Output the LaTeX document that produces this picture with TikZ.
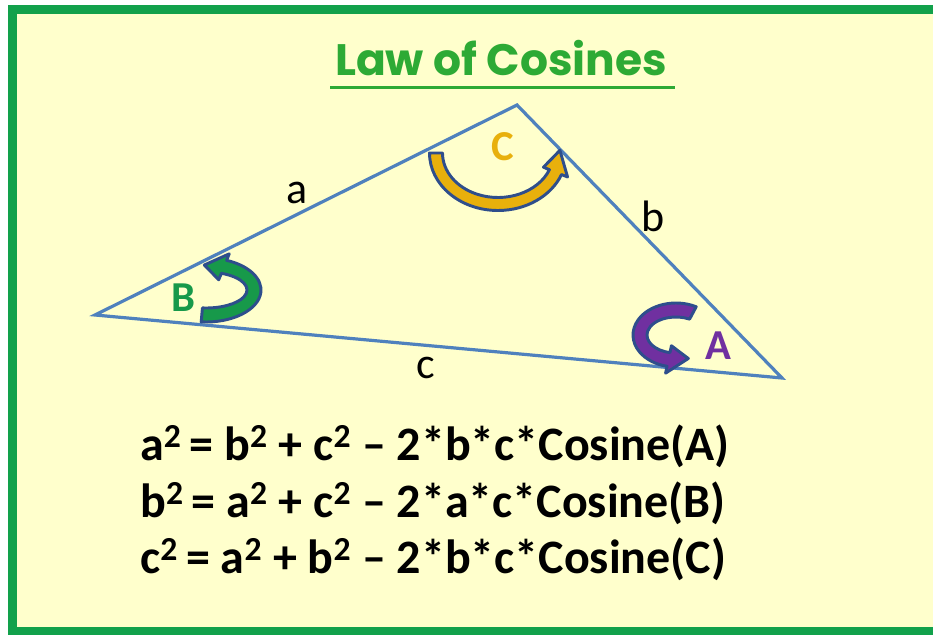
\documentclass[tikz,border=0pt]{standalone}
\usepackage{fontspec}
\setmainfont{Carlito}
\newfontfamily\titlefont{Poppins}
\usepackage{tikz}
\usetikzlibrary{arrows.meta,calc}

\definecolor{paper}{HTML}{FFFFCC}
\definecolor{framegreen}{HTML}{12A14B}
\definecolor{titlegreen}{HTML}{2DAA35}
\definecolor{sideblue}{HTML}{4F81BD}
\definecolor{arrowblue}{HTML}{2E4E8C}
\definecolor{angleC}{HTML}{E8B00C}
\definecolor{angleB}{HTML}{17994A}
\definecolor{angleA}{HTML}{7030A0}

\tikzset{
  side/.style={draw=sideblue, line width=2.4pt, line join=miter},
  sidelabel/.style={font=\fontsize{33}{33}\selectfont, inner sep=0pt},
  anglelabel/.style={font=\fontsize{32}{32}\selectfont\bfseries, inner sep=0pt},
  turn/.style={draw=arrowblue, line width=2.2pt, line join=round},
  formula/.style={font=\fontsize{36}{36}\selectfont\bfseries, anchor=base west, inner sep=0pt},
}

% centre, x radius, y radius, from, to, tip angle, half width, fill
\newcommand{\turnarrow}[8]{%
  \pgfmathsetmacro{\rxo}{#2+#7}\pgfmathsetmacro{\ryo}{#3+#7}%
  \pgfmathsetmacro{\rxi}{#2-#7}\pgfmathsetmacro{\ryi}{#3-#7}%
  \pgfmathsetmacro{\rxw}{#2+2*#7}\pgfmathsetmacro{\ryw}{#3+2*#7}%
  \pgfmathsetmacro{\rxv}{#2-2*#7}\pgfmathsetmacro{\ryv}{#3-2*#7}%
  \filldraw[turn, fill=#8, shift={#1}]
    ({\rxo*cos(#4)},{\ryo*sin(#4)}) arc[start angle=#4, end angle=#5, x radius=\rxo, y radius=\ryo]
    -- ({\rxw*cos(#5)},{\ryw*sin(#5)}) -- ({#2*cos(#6)},{#3*sin(#6)}) -- ({\rxv*cos(#5)},{\ryv*sin(#5)})
    -- ({\rxi*cos(#5)},{\ryi*sin(#5)}) arc[start angle=#5, end angle=#4, x radius=\rxi, y radius=\ryi]
    -- cycle;}

\begin{document}
\begin{tikzpicture}[x=0.75pt, y=-0.75pt]
  \useasboundingbox (0,0) rectangle (933,635);
  \clip (0,0) rectangle (933,635);
  \fill[white] (0,0) rectangle (933,635);
  \filldraw[fill=paper, draw=framegreen, line width=6.75pt] (12.5,10) rectangle (960,631);

  % title
  \node[font=\titlefont\bfseries\fontsize{33}{33}\selectfont, text=titlegreen, inner sep=0pt]
    (title) at (501,58) {Law of Cosines};
  \draw[titlegreen, line width=2.6pt] (330,87.5) -- (675,87.5);

  % triangle
  \coordinate (B) at (95,315);
  \coordinate (C) at (517,105);
  \coordinate (A) at (782,378);
  \draw[side] (B) -- (C) -- (A) -- cycle;

  \node[sidelabel] (a) at (297,192.5) {a};
  \node[sidelabel] (b) at (653,216) {b};
  \node[sidelabel] (c) at (426,367.5) {c};

  % angle arrows
  \turnarrow{(498,153)}{62}{51}{180}{22}{-3}{6.5}{angleC}
  \turnarrow{(206,290)}{48}{25}{95}{-68}{-92}{7}{angleB}
  \turnarrow{(676,335)}{36}{25}{-62}{-258}{-290}{7}{angleA}

  \node[anglelabel, text=angleC] (labC) at (503,147) {C};
  \node[anglelabel, text=angleB] (labB) at (183,298) {B};
  \node[anglelabel, text=angleA] (labA) at (718,346) {A};

  % formulas
  \node[formula] (lawA) at (140,460)
    {a\textsuperscript{2}\,= b\textsuperscript{2} + c\textsuperscript{2} – 2*b*c*Cosine(A)};
  \node[formula] (lawB) at (140,517)
    {b\textsuperscript{2}\,= a\textsuperscript{2} + c\textsuperscript{2} – 2*a*c*Cosine(B)};
  \node[formula] (lawC) at (140,573)
    {c\textsuperscript{2}\,= a\textsuperscript{2} + b\textsuperscript{2} – 2*b*c*Cosine(C)};
\end{tikzpicture}
\end{document}
